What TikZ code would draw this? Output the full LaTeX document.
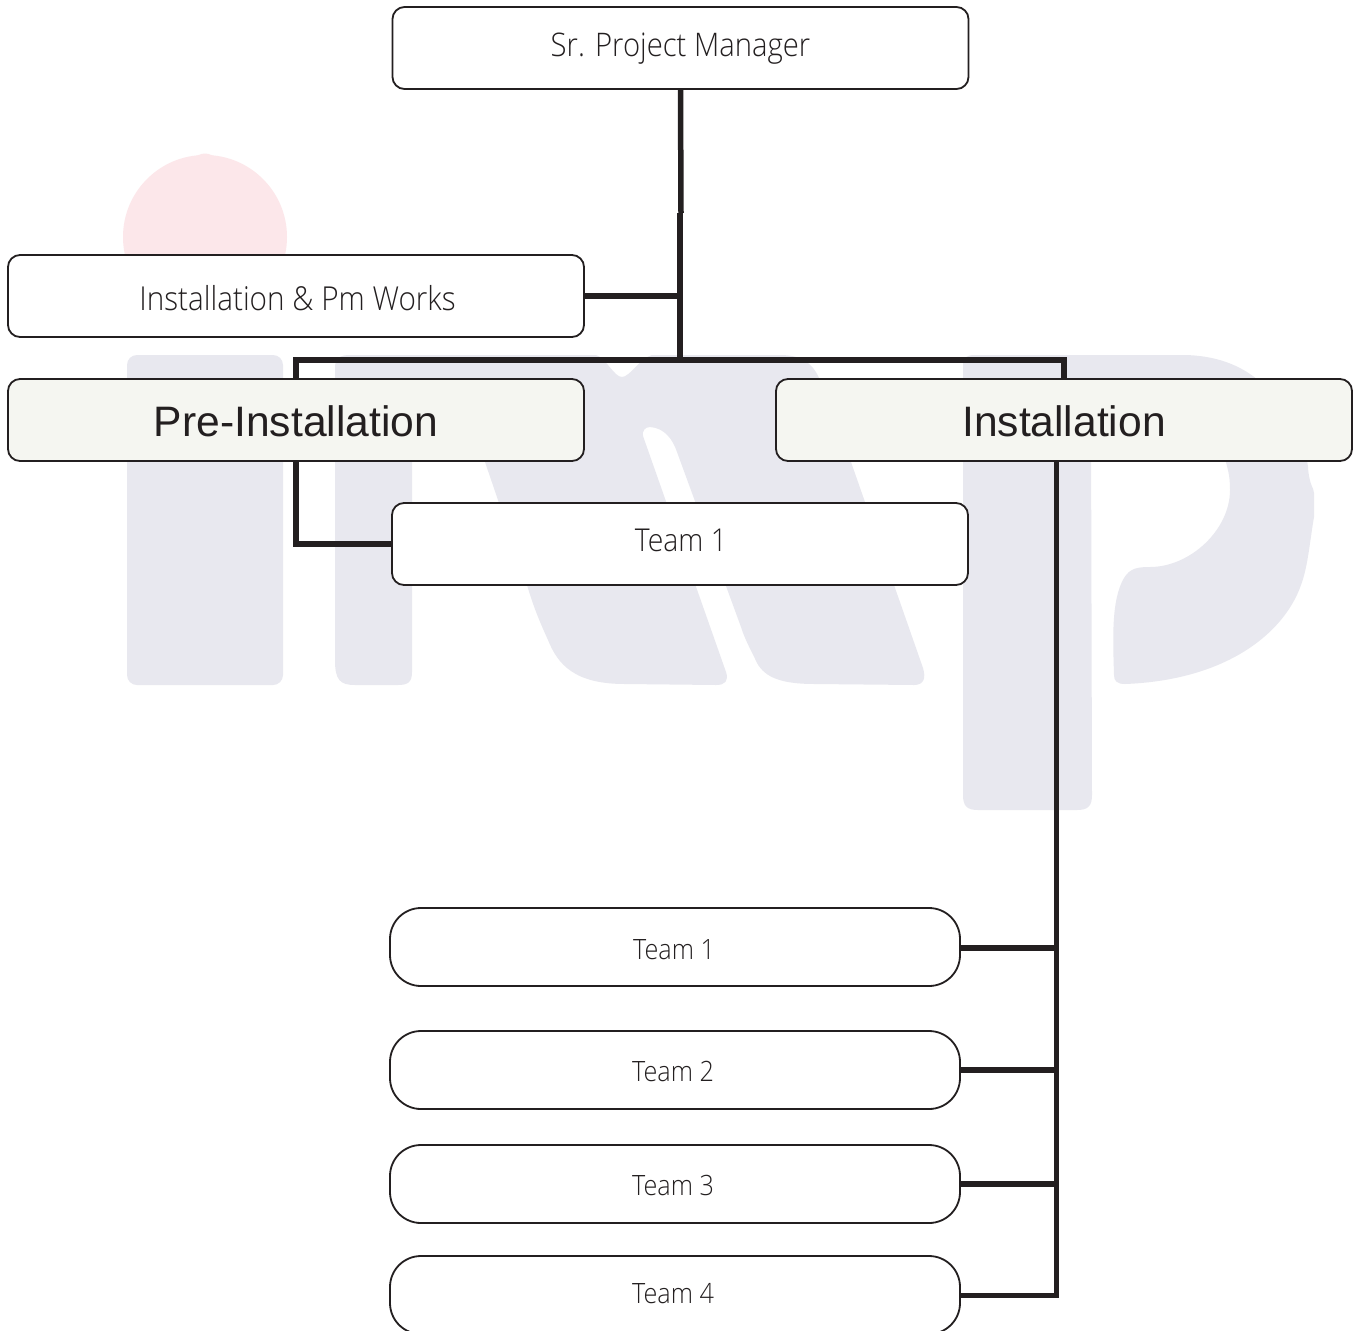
\documentclass[tikz,border=0pt]{standalone}
\usepackage{fontspec}
\setmainfont{Liberation Sans}
\newfontfamily\lightf[UprightFont={* Light},FakeStretch=0.9]{Open Sans}
\definecolor{ink}{HTML}{231F20}
\definecolor{wmgrey}{HTML}{E8E8EF}
\definecolor{wmpink}{HTML}{FCE7EA}
\definecolor{headfill}{HTML}{F5F6F1}
\tikzset{
  x=1pt,y=-1pt,
  boxbase/.style={draw=ink,line width=1.8pt,rounded corners=12pt,minimum width=576pt,minimum height=82pt,inner sep=0pt,fill=white,text=ink},
  lightbox/.style={boxbase,font={\lightf\fontsize{32.5}{38}\selectfont},text height=24pt,text depth=8pt},
  headbox/.style={boxbase,fill=headfill,font={\fontsize{42.6}{48}\selectfont},text height=32pt,text depth=0pt},
  teambox/.style={boxbase,rounded corners=31pt,minimum width=570pt,minimum height=78pt,font={\lightf\fontsize{28}{32}\selectfont},text height=30pt,text depth=8pt},
  wire/.style={draw=ink,line width=5.5pt,line join=miter},
  wirethin/.style={draw=ink,line width=5pt,line join=miter},
  wm/.style={fill=wmgrey,draw=none},
}
\begin{document}
\begin{tikzpicture}
\clip (0,0) rectangle (1361,1331);
\fill[white] (0,0) rectangle (1361,1331);
% watermark
\fill[wmpink] (205,237) circle[radius=82];
\fill[wmpink] (192,157.5) .. controls (198,156) and (200,153.5) .. (205,153.5) .. controls (210,153.5) and (212,156) .. (218,157.5) -- cycle;
\fill[wm,rounded corners=10pt] (127,355) rectangle (283,685);
\fill[wm] (335,368) .. controls (335,358) and (340,355) .. (350,355) -- (596,355)
  .. controls (606,358) and (614,377) .. (622,377) .. controls (630,377) and (640,358) .. (652,355)
  -- (780,355) .. controls (800,355) and (812,362) .. (819,378)
  -- (851,462) -- (923,668) .. controls (926,678) and (924,685) .. (914,685)
  -- (815,684) .. controls (780,684) and (765,677) .. (757,663)
  .. controls (752,652) and (745,640) .. (741,627)
  -- (677,452) .. controls (673,440) and (665,428) .. (650,427)
  .. controls (645,427) and (642,431) .. (643,436)
  -- (726,672) .. controls (729,681) and (725,685) .. (716,685)
  -- (625,684) .. controls (575,684) and (558,665) .. (548,640)
  .. controls (538,618) and (533,605) .. (527,585)
  -- (485,462) -- (470,420) -- (412,420) -- (412,672)
  .. controls (412,682) and (408,685) .. (398,685) -- (355,685)
  .. controls (340,685) and (335,680) .. (335,660) -- cycle;
\fill[wm] (963,365) .. controls (963,358) and (966,355) .. (975,355) -- (1182,355)
  .. controls (1215,355) and (1240,365) .. (1258,380)
  .. controls (1290,405) and (1305,440) .. (1308,467)
  .. controls (1309,485) and (1314,488) .. (1314,493) -- (1314,517)
  .. controls (1310,540) and (1308,565) .. (1302,582)
  .. controls (1287,630) and (1230,680) .. (1125,684)
  .. controls (1117,684) and (1114,681) .. (1114,675)
  .. controls (1113,640) and (1111,600) .. (1124,578)
  .. controls (1130,568) and (1138,567) .. (1150,567)
  .. controls (1190,567) and (1230,530) .. (1230,490)
  .. controls (1230,475) and (1228,470) .. (1224,455)
  -- (1215,420) -- (1091,420) -- (1092,795)
  .. controls (1092,806) and (1088,810) .. (1077,810) -- (978,810)
  .. controls (967,810) and (963,806) .. (963,795) -- cycle;
% boxes
\node[lightbox] (spm) at (680.5,48) {Sr. Project Manager};
\node[lightbox,font={\lightf\fontsize{33}{38}\selectfont},text height=36pt] (ipw) at (296,296) {\kern3pt Installation \& Pm Works};
\node[headbox] (pre) at (296,420) {Pre-Installation};
\node[headbox] (inst) at (1064,420) {Installation};
\node[lightbox,font={\lightf\fontsize{31.5}{38}\selectfont},text height=22pt] (teama) at (680,544) {\kern2pt Team 1};
\node[teambox,text height=32pt] (tone) at (675,947) {\kern-2pt Team 1};
\node[teambox] (ttwo) at (675,1070) {\kern-4pt Team 2};
\node[teambox] (tthree) at (675,1184) {\kern-4pt Team 3};
\node[teambox,text height=24pt] (tfour) at (675,1295) {\kern-4pt Team 4};
% junction points
\coordinate (jog) at (681,213);
\coordinate (hub) at (680,360);
\coordinate (hl) at (296,360);
\coordinate (hr) at (1064,360);
\coordinate (trunktop) at (1056,461);
\coordinate (trunkbot) at (1056,1295);
% connectors
\draw[wire] (spm.south) -- (jog);
\draw[wire,line width=6pt] (jog -| hub) -- (hub);
\draw[wire] (ipw.east) -- (ipw.east -| hub);
\draw[wire] (pre.north) -- (hl) -- (hr) -- (inst.north);
\draw[wire] (pre.south) |- (teama.west);
\draw[wirethin] (trunktop) -- (trunkbot) -- (tfour.east);
\draw[wire] (tone.east) ++(0,1) -- ([yshift=-1pt]tone.east -| trunktop);
\draw[wire] (ttwo.east) -- (ttwo.east -| trunktop);
\draw[wire] (tthree.east) -- (tthree.east -| trunktop);
\end{tikzpicture}
\end{document}
